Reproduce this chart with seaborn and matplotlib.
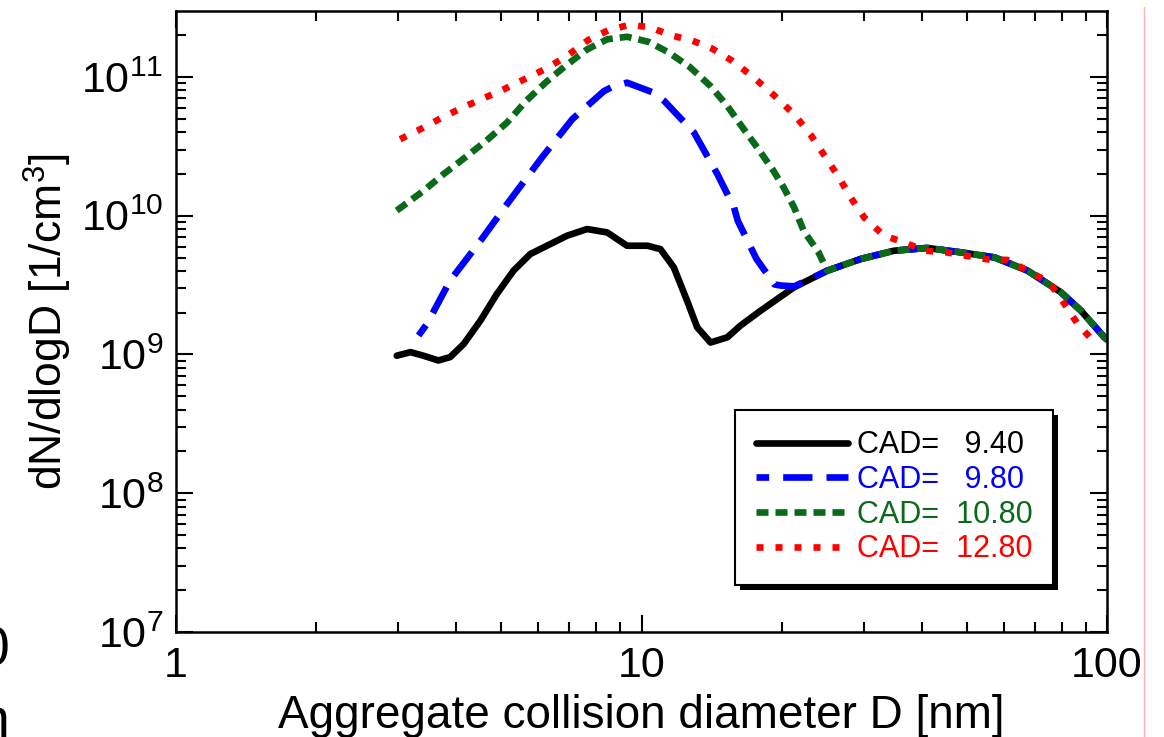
import matplotlib
matplotlib.use('Agg')
import matplotlib.pyplot as plt
import matplotlib.ticker as mticker
from matplotlib.lines import Line2D
from matplotlib.patches import Rectangle
import seaborn as sns
import pandas as pd

# ==========================================
# Data (D in nm, dN/dlogD in 1/cm^3)
# ==========================================
# part shared by the first three runs above ~25 nm
tail_d = [25.07, 29.58, 34.9, 41.1, 48.5, 57.3, 67.5, 79.6, 87.9, 98.7, 100.0]
tail_n = [4.02e9, 4.88e9, 5.6e9, 5.86e9, 5.45e9, 5.01e9, 4.02e9, 2.81e9, 2.07e9,
          1.33e9, 1.28e9]

cad940_d = [2.98, 3.19, 3.40, 3.66, 3.88, 4.15, 4.51, 4.89, 5.31, 5.77, 6.37, 6.92,
            7.64, 8.44, 9.31, 10.3, 10.98, 11.73, 12.53, 13.17, 14.07, 15.29, 16.33,
            18.03, 21.27]
cad940_n = [0.98e9, 1.04e9, 0.98e9, 0.906e9, 0.957e9, 1.19e9, 1.76e9, 2.73e9, 4.02e9,
            5.30e9, 6.25e9, 7.18e9, 8.02e9, 7.58e9, 6.08e9, 6.08e9, 5.75e9, 4.25e9,
            2.44e9, 1.57e9, 1.22e9, 1.33e9, 1.62e9, 2.07e9, 3.05e9]

cad980_d = [3.32, 3.46, 3.88, 4.51, 5.14, 6.11, 7.10, 8.30, 8.72, 9.31, 10.63, 11.2,
            12.97, 14.55, 15.8, 16.1, 17.65, 19.3, 19.9, 21.3, 23.0]
cad980_n = [1.37e9, 1.66e9, 3.41e9, 6.6e9, 1.21e10, 2.63e10, 4.96e10, 7.9e10, 8.6e10,
            9.1e10, 7.7e10, 6.7e10, 3.97e10, 2.0e10, 1.15e10, 9.2e9, 4.9e9, 3.2e9,
            3.14e9, 3.1e9, 3.5e9]

cad1080_d = [2.98, 3.40, 3.76, 4.18, 4.64, 5.14, 5.65, 6.24, 6.86, 7.64, 8.44, 9.31,
             10.37, 11.45, 12.7, 14.07, 15.29, 16.45, 17.73, 19.1, 20.2, 21.27, 22.3,
             24.0]
cad1080_n = [1.09e10, 1.51e10, 2.0e10, 2.63e10, 3.47e10, 4.69e10, 6.72e10, 9.2e10,
             1.2e11, 1.58e11, 1.87e11, 1.95e11, 1.79e11, 1.5e11, 1.18e11, 8.6e10,
             6.18e10, 4.37e10, 3.1e10, 2.17e10, 1.6e10, 1.15e10, 7.8e9, 5.45e9]

cad1280_d = [3.03, 3.38, 3.73, 4.15, 4.58, 5.06, 5.60, 6.24, 6.92, 7.67, 8.51, 9.39,
             10.42, 11.54, 12.79, 14.19, 15.60, 17.38, 19.26, 21.27, 23.09, 24.88,
             26.6, 28.2, 30.1, 33.2, 36.7, 40.5, 45.1, 49.7, 55.4, 61.1, 67.5, 75.2,
             81.0, 86.5, 94.7]
cad1280_n = [3.56e10, 4.27e10, 5.1e10, 6.08e10, 7.03e10, 8.15e10, 9.62e10, 1.15e11,
             1.42e11, 1.84e11, 2.18e11, 2.37e11, 2.29e11, 2.0e11, 1.84e11, 1.6e11,
             1.32e11, 1.0e11, 7.38e10, 5.39e10, 3.83e10, 2.63e10, 1.87e10, 1.34e10,
             9.7e9, 7.18e9, 6.43e9, 5.6e9, 5.45e9, 5.15e9, 4.85e9, 4.8e9, 4.02e9,
             3.31e9, 2.32e9, 1.66e9, 1.19e9]

labels = ['CAD=   9.40', 'CAD=   9.80', 'CAD=  10.80', 'CAD=  12.80']
colors = ['#000000', '#0000ff', '#0a6a1a', '#ff0000']

series = [
    (cad940_d + tail_d, cad940_n + tail_n),
    (cad980_d + tail_d, cad980_n + tail_n),
    (cad1080_d + tail_d, cad1080_n + tail_n),
    (cad1280_d, cad1280_n),
]

# ==========================================
# Style
# ==========================================
sns.set_theme(style='ticks')
plt.rcParams['font.family'] = ['Liberation Sans', 'DejaVu Sans']
plt.rcParams['mathtext.fontset'] = 'custom'
plt.rcParams['mathtext.rm'] = 'Liberation Sans'
for key in ['text.color', 'axes.labelcolor', 'xtick.color', 'ytick.color',
            'axes.edgecolor']:
    plt.rcParams[key] = 'black'

W, H = 1164, 737
fig = plt.figure(figsize=(W / 100, H / 100), dpi=100)
ax = fig.add_axes([176 / W, 1 - 632 / H, 931 / W, 621 / H])
ax.set_xscale('log')
ax.set_yscale('log')

lw = 4.8
styles = [
    dict(linestyle='-'),
    dict(linestyle=(2.5, (4.4, 2.1))),
    dict(linestyle=(0, (1.8, 1.05))),
    dict(linestyle=(0, (1.05, 1.8))),
]

for (d, n), lab, col, st in zip(series, labels, colors, styles):
    df = pd.DataFrame({'D': d, 'N': n})
    sns.lineplot(data=df, x='D', y='N', ax=ax, color=col, lw=lw, label=lab,
                 sort=False, estimator=None, solid_joinstyle='round',
                 solid_capstyle='round', **st)

ax.set_xlim(1, 100)
ax.set_ylim(1e7, 2.99e11)

ax.xaxis.set_major_formatter(mticker.FuncFormatter(lambda v, _: f'{v:g}'))
ax.xaxis.set_minor_formatter(mticker.NullFormatter())
ax.yaxis.set_minor_formatter(mticker.NullFormatter())

ax.tick_params(which='both', direction='in', top=True, right=True, colors='black')
ax.tick_params(which='major', length=12, width=1.5)
ax.tick_params(which='minor', length=7, width=1.5)
ax.tick_params(axis='x', which='major', labelsize=31, pad=10)
ax.tick_params(axis='y', which='major', labelsize=31, pad=9)

for sp in ax.spines.values():
    sp.set_visible(True)
    sp.set_color('black')
    sp.set_linewidth(1.8)

ax.set_xlabel('Aggregate collision diameter D [nm]', fontsize=33, labelpad=6)
ax.set_ylabel(r'dN/dlogD [1/cm$^{\mathdefault{3}}$]', fontsize=32, labelpad=5)

leg = ax.legend(loc='upper right', bbox_to_anchor=((1053 - 176) / 931, (632 - 410) / 621),
                borderaxespad=0, fontsize=22, frameon=True, fancybox=False,
                handlelength=3.0, handletextpad=0.3, labelspacing=0.15,
                borderpad=0.67, framealpha=1)
leg.get_frame().set_edgecolor('black')
leg.get_frame().set_linewidth(1.5)
for txt, col in zip(leg.get_texts(), colors):
    txt.set_color(col)
leg.set_zorder(10)

# solid black drop shadow behind the legend box
fig.canvas.draw()
bb = leg.get_window_extent()
shadow = Rectangle(((bb.x0 + 5) / W, (bb.y0 - 5) / H), bb.width / W, bb.height / H,
                   transform=fig.transFigure, facecolor='black', edgecolor='none',
                   zorder=9)
ax.add_artist(shadow)
shadow.set_clip_on(False)

# clipped fragments at the picture edges
fig.text(10 / W, 1 - 652 / H, '0', ha='right', va='center', fontsize=40)
fig.text(9 / W, 1 - 737 / H, 'n', ha='right', va='baseline', fontsize=40)
fig.add_artist(Line2D([1144 / W, 1144 / W], [0, 1 - 7 / H], transform=fig.transFigure,
                      color='#ffb4b4', lw=1))

fig.savefig('out.png', dpi=100)
